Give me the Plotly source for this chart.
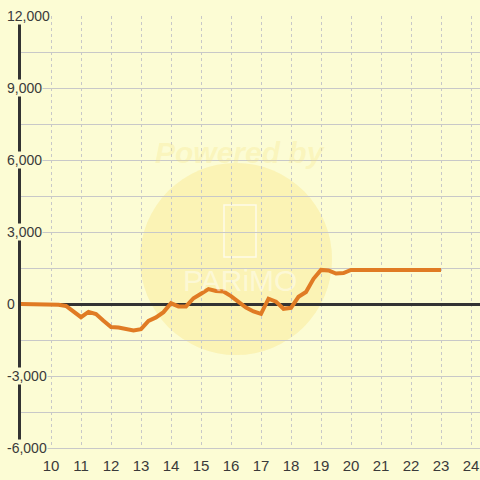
import plotly.graph_objects as go

# ── data ──────────────────────────────────────────────────────────────────────
hours = [9.0, 9.25, 9.5, 9.75, 10.0, 10.25, 10.5, 10.75,
         11.0, 11.25, 11.5, 11.75, 12.0, 12.25, 12.5, 12.75,
         13.0, 13.25, 13.5, 13.75, 14.0, 14.25, 14.5, 14.75,
         15.0, 15.25, 15.5, 15.75, 16.0, 16.25, 16.5, 16.75,
         17.0, 17.25, 17.5, 17.75, 18.0, 18.25, 18.5, 18.75,
         19.0, 19.25, 19.5, 19.75, 20.0, 20.25, 20.5, 20.75,
         21.0, 21.25, 21.5, 21.75, 22.0, 22.25, 22.5, 22.75, 23.0]
pnl = [0, 0, 0, 0, 0, -30, -80, -330,
       -550, -330, -420, -700, -960, -980, -1060, -1100,
       -1050, -700, -560, -340, 30, -100, -100, 240,
       430, 620, 540, 520, 330, 70, -150, -310,
       -410, 220, 100, -200, -160, 300, 500, 1050,
       1420, 1400, 1270, 1290, 1420, 1420, 1420, 1420,
       1420, 1420, 1420, 1420, 1420, 1420, 1420, 1420, 1420]

x_ticks = list(range(10, 25))
y_ticks = [12000, 9000, 6000, 3000, 0, -3000, -6000]

BG = '#FCFCD4'
INK = '#3a3a3a'
ORANGE = '#E07B24'
GRID = '#C8C8C8'

# ── figure ────────────────────────────────────────────────────────────────────
fig = go.Figure(go.Scatter(x=hours, y=pnl, mode='lines',
                           line=dict(color=ORANGE, width=4),
                           hoverinfo='skip'))

fig.update_layout(
    width=480, height=480,
    margin=dict(l=21, r=0, t=16, b=32),
    paper_bgcolor=BG, plot_bgcolor=BG,
    showlegend=False,
    font=dict(family='Liberation Sans, Arial, sans-serif', size=14, color=INK),
)

fig.update_xaxes(range=[9, 24.3], tickvals=x_ticks, ticktext=[str(t) for t in x_ticks],
                 showgrid=True, gridcolor=GRID, gridwidth=1, griddash='3px,3px',
                 zeroline=False, showline=True, linecolor=GRID, linewidth=1,
                 ticks='outside', ticklen=4, tickcolor='rgba(0,0,0,0)',
                 tickfont=dict(size=15, color=INK), automargin=False)

fig.update_yaxes(range=[-6000, 12000], dtick=1500, tick0=0,
                 showgrid=True, gridcolor=GRID, gridwidth=1,
                 zeroline=True, zerolinecolor='#333333', zerolinewidth=3,
                 showline=True, linecolor='#333333', linewidth=3,
                 showticklabels=False, automargin=False)

# y labels sit on top of the axis line with a background box
for v in y_ticks:
    fig.add_annotation(xref='paper', yref='y', x=-15 / 459, y=v,
                       xanchor='left', yanchor='middle', showarrow=False,
                       text=f'{v:,}', bgcolor=BG, borderpad=0,
                       font=dict(size=14, color=INK))

# faint watermark
fig.add_shape(type='circle', xref='paper', yref='paper', layer='below',
              x0=0.2593, x1=0.6776, y0=0.2153, y1=0.6597,
              fillcolor='rgba(250,222,110,0.30)', line_width=0)
fig.add_shape(type='rect', xref='paper', yref='paper', layer='below',
              x0=(224 - 21) / 459, x1=(256 - 21) / 459,
              y0=(448 - 257) / 432, y1=(448 - 205) / 432,
              line=dict(color='rgba(255,255,255,0.7)', width=1.5))
fig.add_annotation(xref='paper', yref='paper', x=(240 - 21) / 459, y=(448 - 134) / 432,
                   text='<b><i>Powered by</i></b>', showarrow=False,
                   font=dict(size=30, color='rgba(245,225,120,0.25)'))
fig.add_annotation(xref='paper', yref='paper', x=(240 - 21) / 459, y=(448 - 280) / 432,
                   text='PARiMO', showarrow=False,
                   font=dict(size=30, color='rgba(255,255,255,0.45)'))

fig.write_html('out.html', config={'displayModeBar': False},
               post_script="document.body.style.margin='0';")
